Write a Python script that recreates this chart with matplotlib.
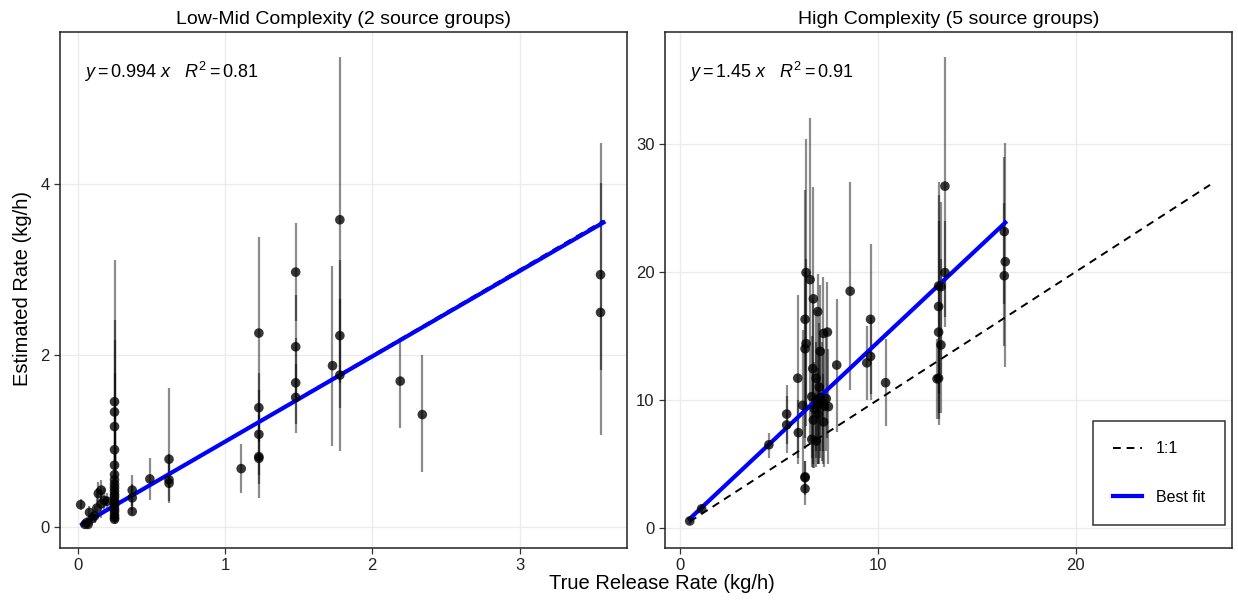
#!/usr/bin/env python3
"""Estimated vs true release rate, two complexity panels."""
from __future__ import annotations

import matplotlib

matplotlib.use("Agg")
import matplotlib.pyplot as plt
from matplotlib.lines import Line2D

plt.rcParams["font.family"] = ["Liberation Sans", "DejaVu Sans"]
plt.rcParams["mathtext.fontset"] = "custom"
plt.rcParams["mathtext.rm"] = "Liberation Sans"
plt.rcParams["mathtext.it"] = "Liberation Sans:italic"

# ---- Low-Mid complexity panel --------------------------------------------
LOW_X = [0.02, 0.05, 0.06, 0.07, 0.08, 0.10, 0.115, 0.13, 0.14, 0.16, 0.18, 0.16, 0.20,
         0.25, 0.25, 0.25, 0.25, 0.25, 0.25, 0.25, 0.25, 0.25, 0.25,
         0.25, 0.25, 0.25, 0.25, 0.25, 0.25, 0.25, 0.25, 0.25, 0.25,
         0.37, 0.37, 0.37, 0.49, 0.62, 0.62, 0.62,
         1.11, 1.23, 1.23, 1.23, 1.23, 1.23, 1.48, 1.48, 1.48, 1.48,
         1.73, 1.78, 1.78, 1.78, 2.19, 2.34, 3.55, 3.55]
LOW_Y = [0.26, 0.03, 0.05, 0.03, 0.17, 0.10, 0.13, 0.22, 0.39, 0.43, 0.31, 0.27, 0.30,
         1.46, 1.34, 1.17, 0.90, 0.72, 0.61, 0.55, 0.50, 0.46, 0.42,
         0.38, 0.35, 0.31, 0.28, 0.25, 0.21, 0.18, 0.14, 0.11, 0.09,
         0.43, 0.34, 0.18, 0.56, 0.79, 0.55, 0.51,
         0.68, 2.26, 1.39, 1.08, 0.82, 0.80, 2.97, 2.10, 1.68, 1.51,
         1.88, 3.58, 2.23, 1.77, 1.70, 1.31, 2.94, 2.50]
LOW_LO = [0.20, 0.00, 0.00, 0.00, 0.08, 0.02, 0.05, 0.10, 0.25, 0.28, 0.20, 0.10, 0.20,
          0.55, 0.50, 0.40, 0.30, 0.20, 0.30, 0.25, 0.25, 0.20, 0.20,
          0.20, 0.15, 0.15, 0.12, 0.10, 0.10, 0.08, 0.06, 0.05, 0.04,
          0.25, 0.20, 0.14, 0.31, 0.45, 0.28, 0.30,
          0.40, 1.14, 0.99, 0.60, 0.34, 0.50, 2.40, 1.50, 1.20, 1.10,
          0.94, 1.68, 1.39, 0.88, 1.15, 0.64, 1.83, 1.07]
LOW_HI = [0.33, 0.08, 0.12, 0.10, 0.25, 0.18, 0.25, 0.45, 0.52, 0.55, 0.45, 0.40, 0.40,
          2.41, 2.18, 3.11, 1.80, 1.40, 1.00, 0.90, 0.85, 0.75, 0.70,
          0.60, 0.60, 0.55, 0.50, 0.45, 0.40, 0.35, 0.30, 0.25, 0.20,
          0.60, 0.50, 0.30, 0.80, 1.62, 0.85, 0.75,
          0.97, 3.38, 1.79, 1.60, 1.30, 1.10, 3.54, 2.70, 2.20, 1.90,
          3.04, 5.48, 3.11, 2.66, 2.20, 2.00, 4.48, 4.01]
LOW_FIT_X = [0.03, 3.57]
LOW_SLOPE = 0.994
LOW_R2 = 0.81

# ---- High complexity panel ------------------------------------------------
HIGH_X = [0.50, 1.10, 4.50, 5.40, 5.40, 5.96, 5.99, 6.21, 6.33, 6.33, 6.33,
          6.38, 6.58, 6.33, 6.38, 6.33, 6.75, 6.97, 7.46, 7.26, 7.09, 6.72,
          6.89, 7.05, 6.67, 6.90, 7.00, 7.10, 7.20, 7.30, 7.40, 6.80, 7.00,
          6.75, 7.26, 6.67, 6.90, 7.51, 7.93, 8.61, 9.64, 9.64, 9.45, 10.40,
          13.08, 13.08, 13.08, 13.20, 13.08, 13.00, 13.20, 13.40, 13.40,
          16.40, 16.45, 16.40]
HIGH_Y = [0.55, 1.50, 6.50, 8.90, 8.05, 11.70, 7.45, 9.58, 3.93, 3.07, 4.00,
          19.95, 19.40, 16.30, 14.40, 14.00, 17.90, 16.90, 15.30, 15.20, 13.80, 12.45,
          11.70, 11.00, 10.26, 10.00, 9.60, 10.20, 9.80, 9.50, 10.10, 9.30, 8.90,
          8.44, 8.28, 6.93, 6.80, 9.48, 12.73, 18.50, 16.30, 13.40, 12.90, 11.35,
          18.90, 17.30, 15.30, 14.30, 11.70, 11.65, 18.85, 26.70, 19.95,
          23.15, 20.80, 19.70]
HIGH_LO = [0.30, 1.20, 5.50, 6.60, 5.85, 5.50, 5.00, 4.00, 2.60, 1.80, 2.80,
           9.50, 6.80, 6.20, 8.00, 7.00, 9.20, 7.00, 7.00, 6.00, 5.50, 5.00,
           6.00, 5.00, 5.50, 5.50, 5.00, 6.00, 5.20, 4.80, 6.00, 4.70, 5.00,
           4.70, 5.00, 4.80, 4.80, 5.00, 7.50, 10.80, 10.50, 10.00, 10.00, 8.00,
           10.50, 8.50, 8.05, 9.00, 9.00, 8.50, 12.00, 16.50, 15.70,
           17.50, 12.60, 14.20]
HIGH_HI = [0.80, 1.80, 7.45, 11.20, 10.30, 18.20, 10.00, 15.50, 5.26, 4.30, 5.20,
           30.40, 32.00, 26.40, 21.00, 20.00, 26.60, 19.80, 19.20, 19.60, 19.00, 18.00,
           17.00, 16.00, 15.00, 14.50, 14.00, 15.00, 14.50, 14.00, 15.50, 13.00, 12.50,
           12.00, 12.00, 9.00, 9.50, 14.00, 17.90, 27.00, 22.20, 16.50, 15.80, 14.80,
           27.05, 26.00, 24.00, 21.00, 14.50, 14.80, 25.50, 36.80, 24.00,
           29.00, 30.05, 25.40]
HIGH_FIT_X = [0.50, 16.45]
HIGH_DIAG_X = [0.50, 26.80]
HIGH_SLOPE = 1.45
HIGH_R2 = 0.91

TITLES = ["Low-Mid Complexity (2 source groups)", "High Complexity (5 source groups)"]


def style_axis(ax):
    ax.set_facecolor("white")
    ax.grid(True, color="#ebebeb", linewidth=1.0)
    ax.set_axisbelow(True)
    for spine in ax.spines.values():
        spine.set_color("#222222")
        spine.set_linewidth(1.1)
    ax.tick_params(direction="out", length=4, width=0.9, color="#333333",
                   labelsize=12, labelcolor="#222222")


def draw_panel(ax, xs, ys, lo, hi, fit_x, diag_x, slope, r2, title):
    style_axis(ax)
    ax.vlines(xs, lo, hi, color="black", alpha=0.45, linewidth=1.6, zorder=2)
    ax.plot(diag_x, diag_x, color="black", linestyle=(0, (4, 3)), linewidth=1.4, zorder=3)
    ax.plot(fit_x, [slope * v for v in fit_x], color="#0000ff", linewidth=3.0, zorder=3)
    ax.scatter(xs, ys, s=48, color="black", alpha=0.78, edgecolors="none", zorder=4)
    ax.set_title(title, fontsize=14, pad=6)
    ax.text(0.043, 0.922, rf"$y = {slope:g}\ x\ \ \ R^2 = {r2:.2f}$",
            transform=ax.transAxes, fontsize=13, ha="left", va="center")


def main() -> None:
    fig = plt.figure(figsize=(12.38, 6.03), dpi=100)
    ax_low = fig.add_axes([0.0485, 0.0912, 0.458, 0.856])
    ax_high = fig.add_axes([0.537, 0.0912, 0.458, 0.856])

    draw_panel(ax_low, LOW_X, LOW_Y, LOW_LO, LOW_HI, LOW_FIT_X, LOW_FIT_X,
               LOW_SLOPE, LOW_R2, TITLES[0])
    ax_low.set_xlim(-0.12, 3.73)
    ax_low.set_ylim(-0.245, 5.77)
    ax_low.set_xticks([0, 1, 2, 3])
    ax_low.set_yticks([0, 2, 4])

    draw_panel(ax_high, HIGH_X, HIGH_Y, HIGH_LO, HIGH_HI, HIGH_FIT_X, HIGH_DIAG_X,
               HIGH_SLOPE, HIGH_R2, TITLES[1])
    ax_high.set_xlim(-0.76, 27.9)
    ax_high.set_ylim(-1.56, 38.75)
    ax_high.set_xticks([0, 10, 20])
    ax_high.set_yticks([0, 10, 20, 30])

    handles = [
        Line2D([], [], color="black", linestyle=(0, (4, 3)), linewidth=1.4),
        Line2D([], [], color="#0000ff", linewidth=3.0),
    ]
    leg = ax_high.legend(handles, ["1:1", "Best fit"], loc="lower right",
                         bbox_to_anchor=(0.988, 0.045), borderaxespad=0.0,
                         fontsize=11.5, frameon=True, fancybox=False,
                         edgecolor="black", handlelength=1.8, labelspacing=2.1,
                         borderpad=1.25, handletextpad=0.9)
    leg.get_frame().set_linewidth(1.1)

    fig.text(0.535, 0.032, "True Release Rate (kg/h)", fontsize=14.5, ha="center", va="center")
    fig.text(0.018, 0.522, "Estimated Rate (kg/h)", fontsize=14.5, ha="center",
             va="center", rotation=90)

    fig.savefig("out.png", dpi=100, facecolor="white")
    plt.close(fig)


if __name__ == "__main__":
    main()
